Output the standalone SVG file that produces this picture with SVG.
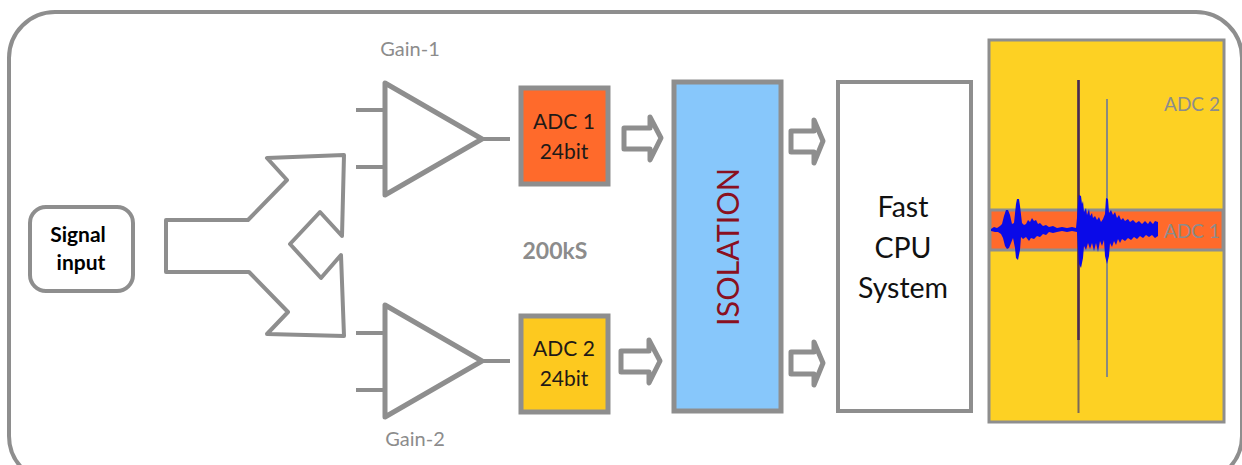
<svg xmlns="http://www.w3.org/2000/svg" width="1242" height="465" viewBox="0 0 1242 465">
<style>
text{font-family:"Lato","Carlito","Liberation Sans",sans-serif;text-anchor:middle}
.g{fill:none;stroke:#8e8e8e;stroke-linejoin:round;stroke-linecap:round}
.l{fill:#8c8c8c;font-size:20px}
.a{fill:#1f1a17;font-size:21px}
.big{fill:#111;font-size:28.500px}
.arr{fill:#fff;stroke:#8e8e8e;stroke-width:5;stroke-linejoin:round}
</style>
<rect width="1242" height="465" fill="#fff"/>
<rect id="frame" x="9" y="12" width="1233" height="470" rx="46" fill="#fff" stroke="#8e8e8e" stroke-width="4"/>
<g id="signal-input"><rect x="30" y="207" width="103" height="84" rx="16" fill="#fff" stroke="#8e8e8e" stroke-width="4"/>
<text x="78" y="242" font-size="21" font-weight="700" fill="#000">Signal</text><text x="81" y="270" font-size="21" font-weight="700" fill="#000">input</text></g>
<g id="splitter"><path class="g" style="stroke-width:4" d="M166 220H248L287 180L267 158L344 155L342 236L320 212L290 244L321 278L341 255L344 336L267 334L288 312L249 272H166Z"/></g>
<g id="connectors">
<path class="g" style="stroke-width:4;stroke-linecap:butt" d="M356 110H385M356 167H385M482 139H510M356 333H385M356 390H385M482 361H510"/>
<path id="arrow-1" class="arr" d="M624 128H650V117L661 138L650 160V149H624Z"/>
<path id="arrow-2" class="arr" d="M621 351H649V340L660 361L649 383V372H621Z"/>
<path id="arrow-3" class="arr" d="M791 131H814V120L823 141L814 163V152H791Z"/>
<path id="arrow-4" class="arr" d="M791 352H814V342L823 363L814 385V374H791Z"/>
</g>
<g id="gain-1"><path class="g" style="stroke-width:5" d="M385 83V195L482 139Z"/><text class="l" x="410" y="56">Gain-1</text></g>
<g id="gain-2"><path class="g" style="stroke-width:5" d="M385 305V417L482 361Z"/><text class="l" x="415" y="446">Gain-2</text></g>
<g id="adc-1"><rect x="521" y="88" width="87" height="96" fill="#ff6a2b" stroke="#8e8e8e" stroke-width="5"/>
<text class="a" x="564" y="129">ADC 1</text><text class="a" x="564" y="159">24bit</text></g>
<g id="adc-2"><rect x="521" y="316" width="87" height="96" fill="#fdc91f" stroke="#8e8e8e" stroke-width="5"/>
<text class="a" x="564" y="356">ADC 2</text><text class="a" x="564" y="386">24bit</text></g>
<text id="rate" x="555" y="259" font-size="23" font-weight="700" fill="#8c8c8c">200kS</text>
<g id="isolation"><rect x="674" y="82" width="107" height="329" fill="#87c7fb" stroke="#8e8e8e" stroke-width="5"/>
<text transform="translate(739 247) rotate(-90)" font-size="30.500" fill="#8a1020">ISOLATION</text></g>
<g id="cpu"><rect x="838" y="82" width="133" height="329" fill="#fff" stroke="#8e8e8e" stroke-width="4"/>
<text class="big" x="903" y="217">Fast</text><text class="big" x="903" y="258">CPU</text><text class="big" x="903" y="298">System</text></g>
<g id="plot">
<rect x="989" y="40" width="235" height="382" fill="#fdd123" stroke="#8e8e8e" stroke-width="3"/>
<rect x="990" y="210" width="233" height="40" fill="#ff6a2b" stroke="#8e8e8e" stroke-width="3"/>
<path d="M1078.500 80V413" stroke="#7a6a5a" stroke-width="2"/>
<path d="M1078.500 80V340" stroke="#4a2a50" stroke-width="2.500"/>
<path d="M1107 99V377" stroke="#8a8a80" stroke-width="2"/>
<path fill="#0a0ae8" d="M991 229L994 227L997 228L1000 226L1002 224L1004 216L1006 210L1008 210L1010 215L1012 224L1014 223L1016 204L1017 199L1019 199L1020 206L1022 223L1024 225L1026 224L1028 220L1030 222L1032 218L1034 221L1036 220L1038 224L1040 223L1043 226L1046 225L1049 227L1053 226L1057 228L1062 227L1067 228L1072 227L1076 228L1077 218L1078 204L1079 195L1081 196L1082 204L1083 201L1084 212L1086 208L1087 215L1089 209L1090 216L1092 213L1093 218L1095 216L1097 220L1099 217L1101 222L1103 219L1105 214L1106 198L1108 199L1109 213L1111 210L1113 215L1115 212L1117 218L1119 215L1121 220L1123 218L1125 221L1128 219L1130 222L1133 220L1136 223L1139 221L1142 224L1145 221L1148 224L1150 221L1153 224L1155 221L1158 222V236L1155 238L1152 235L1149 237L1146 235L1143 238L1140 236L1137 239L1134 237L1131 240L1128 238L1125 241L1122 239L1120 243L1118 239L1116 245L1114 241L1112 247L1110 243L1109 256L1107 264L1105 256L1104 240L1102 246L1100 241L1098 252L1096 243L1094 251L1092 243L1090 249L1088 243L1086 250L1084 246L1083 258L1081 268L1079 264L1078 248L1077 232L1072 231L1067 232L1062 231L1057 232L1053 233L1049 232L1046 235L1043 234L1040 237L1037 236L1034 239L1031 238L1029 241L1026 237L1023 239L1021 237L1020 250L1018 260L1016 258L1015 248L1013 238L1011 243L1009 248L1007 249L1005 246L1003 238L1001 234L998 232L995 232L991 231Z"/>
<text x="1192" y="111" font-size="19" fill="#8c8c8c">ADC 2</text>
<text x="1192" y="238" font-size="19" fill="#8c8c8c">ADC 1</text>
</g>
</svg>
